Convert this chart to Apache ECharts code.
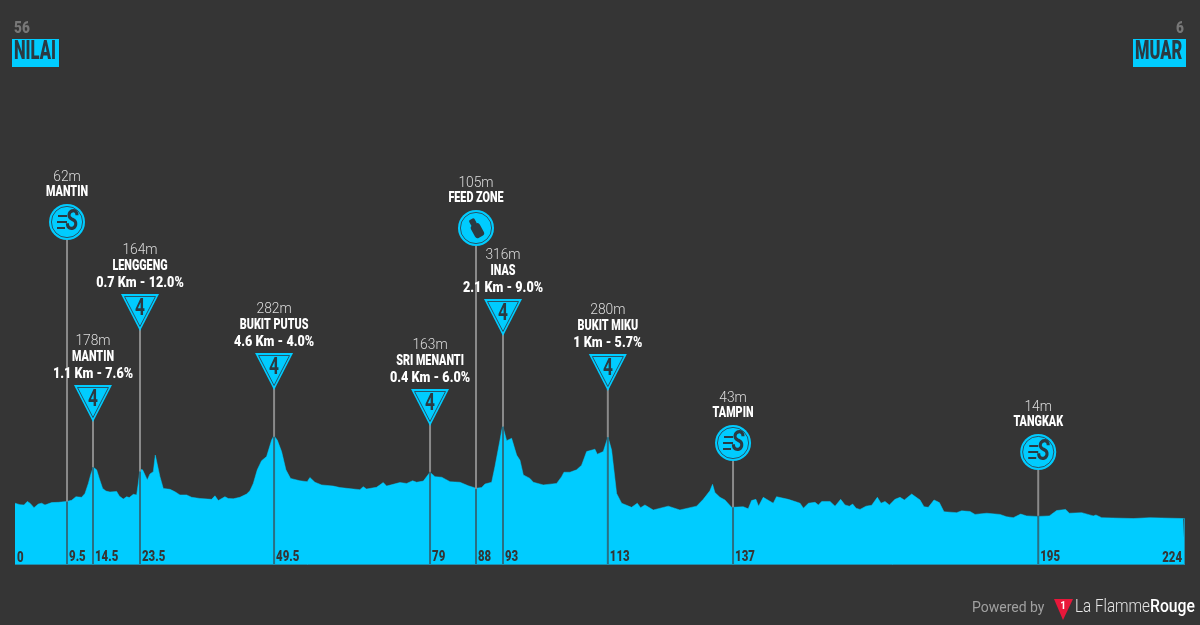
<!DOCTYPE html>
<html><head><meta charset="utf-8">
<style>html,body{margin:0;padding:0;background:#353535}#c{width:1200px;height:625px}</style>
<script src="https://cdn.jsdelivr.net/npm/echarts@6/dist/echarts.min.js"></script>
</head><body><div id="c"></div>
<script>
const profileKm = [0,0.96,1.72,2.36,2.87,3.64,4.46,5.1,5.74,7.02,8.29,9.89,10.85,11.67,12.76,13.4,14.04,14.48,14.99,15.63,16.14,16.78,17.42,18.18,19.46,19.97,20.73,21.37,21.88,22.65,23.29,23.6,23.92,24.43,25.33,25.84,26.48,26.86,27.24,27.75,28.39,29.67,30.62,31.58,32.86,33.81,35.41,37.64,38.28,38.92,40.19,40.83,41.79,43.06,44.34,44.98,45.62,46.38,47.21,48.17,49.13,49.57,50.21,51.04,51.87,52.76,54.55,55.95,56.46,57.42,58.7,60.93,62.2,64.76,66.03,66.67,67.31,69.22,70.5,71.14,73.69,74.99,76.13,76.9,78.18,79.45,80.41,81.69,83.28,85.19,86.79,88.26,89.34,89.98,91.26,91.89,92.85,93.36,94.13,95.08,96.04,96.68,97.32,98.59,99.23,101.14,103.7,104.65,105.1,106.25,107.52,108.48,109.44,111.03,111.48,112.63,113.52,114.22,115.18,116.14,118.05,119.14,119.77,120.6,122.2,125.07,127.3,130.49,131.77,133.04,133.55,134,134.96,135.92,137.19,139.42,140.38,141.02,141.85,142.36,143.25,145.17,145.8,148.04,149.63,150.3,150.94,151.9,153.17,153.81,154.45,156.04,157,158.08,158.91,159.74,160.38,161.02,161.78,162.93,164.02,165.1,165.8,166.57,167.4,168.48,169.44,170.27,171.67,173.27,174.03,174.86,175.95,176.97,177.86,180.29,181.24,182.84,183.8,186.03,188.58,189.86,191.13,192.54,193.68,195.73,198.02,199.43,201.15,201.85,204.21,206.44,206.95,208.04,214.1,217.29,223.67,224];
const profileElev = [57,52,51,63,57,42,54,57,51,59,60,63,67,79,77,90,124,153,179,170,141,107,98,95,97,81,71,79,76,87,85,124,172,170,136,156,164,220,215,147,107,104,96,85,85,77,73,70,82,66,79,73,72,77,88,99,124,170,201,215,271,286,271,232,170,141,133,130,144,128,119,115,110,105,103,113,105,111,127,115,127,124,133,128,132,162,147,145,130,128,116,108,110,122,128,181,271,320,269,277,220,203,153,141,128,119,124,147,162,162,170,186,232,240,223,232,282,237,90,57,43,57,42,51,34,47,34,47,70,99,121,93,77,68,43,45,38,66,70,47,77,57,79,70,61,57,40,57,60,51,63,63,47,70,51,47,54,40,36,47,50,77,57,63,51,70,77,68,88,68,45,43,68,59,28,25,31,29,19,23,19,11,8,20,14,12,14,32,36,23,25,14,17,8,5,8,5,5];
const markerKm = [9.96,14.93,23.93,49.6,79.46,88.26,93.43,113.5,137.47,195.9];
const markerTickLabels = ['9.5','14.5','23.5','49.5','79','88','93','113','137','195'];
const markerElev = [62,178,164,282,163,105,316,280,43,14];
const markerElevLabels = ['62m','178m','164m','282m','163m','105m','316m','280m','43m','14m'];
const markerNames = ['MANTIN','MANTIN','LENGGENG','BUKIT PUTUS','SRI MENANTI','FEED ZONE','INAS','BUKIT MIKU','TAMPIN','TANGKAK'];
const markerClimbs = ['','1.1 Km - 7.6%','0.7 Km - 12.0%','4.6 Km - 4.0%','0.4 Km - 6.0%','','2.1 Km - 9.0%','1 Km - 5.7%','',''];
const markerKinds = ['sprint','kom','kom','kom','kom','feed','kom','kom','sprint','sprint'];
const markerIconY = [222,385,294,353,389,228,299,354,443,452];
const startName='NILAI', startNum='56', finishName='MUAR', finishNum='6';
const endTickLabels=['0','224'];

const CY='#00ccff', BG='#353535', INK='#2b3a42';
const F='Roboto,"Liberation Sans",sans-serif';
const profile = profileKm.map((k,i)=>[k,profileElev[i]]);
const markers = markerKm.map((k,i)=>[k,markerElev[i],i]);

function txt(x,y,s,font,fill,align,sx){return {type:'text',x,y,scaleX:sx||0.72,style:{x:0,y:0,text:s,font,fill,align:align||'center',verticalAlign:'middle'},z2:30};}
function renderMarker(params,api){
  const i=api.value(2);
  const p=api.coord([api.value(0),api.value(1)]);
  const x=p[0], top=markerIconY[i], kind=markerKinds[i], ch=[];
  const bottom=params.coordSys.y+params.coordSys.height;
  const stemTop= kind==='kom'? top+35 : top+18;
  ch.push({type:'line',shape:{x1:x,y1:stemTop,x2:x,y2:p[1]},style:{stroke:'#8a8a8a',lineWidth:2},z2:5});
  ch.push({type:'line',shape:{x1:x,y1:p[1],x2:x,y2:bottom},style:{stroke:'#2a6f84',lineWidth:2},z2:5});
  ch.push(txt(x+2,bottom-8,markerTickLabels[i],'900 15px '+F,BG,'left',0.76));
  const nameFont='900 15px '+F, elevFont='300 15px '+F;
  if(kind==='kom'){
    ch.push({type:'polygon',shape:{points:[[x-19,top],[x+19,top],[x,top+37]]},style:{fill:CY},z2:10});
    ch.push({type:'polygon',shape:{points:[[x-15.5,top+2.5],[x+15.5,top+2.5],[x,top+32.5]]},style:{fill:CY,stroke:'#26566a',lineWidth:1},z2:11});
    ch.push(txt(x,top+15,'4','bold 24px '+F,INK,'center',0.72));
    ch.push(txt(x,top-44,markerElevLabels[i],elevFont,'#dddddd','center',0.92));
    ch.push(txt(x,top-28,markerNames[i],nameFont,'#ffffff','center',0.72));
    ch.push(txt(x,top-11,markerClimbs[i],nameFont,'#ffffff','center',0.84));
  } else {
    ch.push({type:'circle',shape:{cx:x,cy:top,r:18},style:{fill:CY},z2:10});
    ch.push({type:'circle',shape:{cx:x,cy:top,r:15.6},style:{fill:CY,stroke:'#26566a',lineWidth:1},z2:11});
    ch.push(txt(x,top-45,markerElevLabels[i],elevFont,'#dddddd','center',0.92));
    ch.push(txt(x,top-30,markerNames[i],nameFont,'#ffffff','center',0.72));
    if(kind==='sprint'){
      ch.push({type:'rect',shape:{x:x-9,y:top-7,width:9,height:2},style:{fill:INK},z2:12});
      ch.push({type:'rect',shape:{x:x-10,y:top-1,width:10,height:2},style:{fill:INK},z2:12});
      ch.push({type:'rect',shape:{x:x-10,y:top+5,width:8,height:2},style:{fill:INK},z2:12});
      ch.push(txt(x+5,top,'S','italic bold 30px '+F,INK,'center',0.72));
    } else {
      ch.push({type:'group',x:x,y:top,rotation:0.5,children:[
        {type:'rect',shape:{x:-5,y:-4,width:10,height:14,r:3},style:{fill:INK},z2:12},
        {type:'rect',shape:{x:-3,y:-10,width:6,height:7,r:1.5},style:{fill:INK},z2:12}
      ]});
    }
  }
  return {type:'group',children:ch};
}

function gText(x,y,s,font,fill,align,sx){return {type:'text',x,y,scaleX:sx,style:{x:0,y:0,text:s,font,fill,align,verticalAlign:'middle'}};}
const graphics=[
  {type:'line',shape:{x1:15,y1:564.5,x2:1185,y2:564.5},style:{stroke:'#1d8eae',lineWidth:1}},
  {type:'line',shape:{x1:1184.5,y1:519,x2:1184.5,y2:565},style:{stroke:'#1d8eae',lineWidth:1}},
  gText(14,29,startNum,'900 17px '+F,'#777777','left',0.8),
  {type:'rect',shape:{x:12,y:39,width:47,height:28},style:{fill:CY}},
  gText(14,53,startName,'900 25px '+F,INK,'left',0.66),
  gText(1184,29,finishNum,'900 17px '+F,'#777777','right',0.8),
  {type:'rect',shape:{x:1133,y:39,width:53,height:28},style:{fill:CY}},
  gText(1135,53,finishName,'900 25px '+F,INK,'left',0.66),
  gText(17,558,endTickLabels[0],'900 15px '+F,BG,'left',0.76),
  gText(1182,558,endTickLabels[1],'900 15px '+F,BG,'right',0.76),
  gText(972,608,'Powered by','14px '+F,'#a0a0a0','left',1),
  {type:'polygon',shape:{points:[[1054,599],[1073,599],[1063,620]]},style:{fill:'#e8173a'}},
  gText(1063,606,'1','bold 10px '+F,'#ffffff','center',1),
  gText(1075,608,'La Flamme','300 17.5px '+F,'#e6e6e6','left',0.87),
  gText(1150,608,'Rouge','500 17.5px '+F,'#ffffff','left',0.9)
];

const chart=echarts.init(document.getElementById('c'),null,{renderer:'canvas'});
chart.setOption({
  animation:false,
  backgroundColor:BG,
  grid:{left:15,right:15,top:65,bottom:60},
  xAxis:{type:'value',min:0,max:224,show:false},
  yAxis:{type:'value',min:-152.5,max:1542.5,show:false},
  graphic:{elements:graphics.map(g=>Object.assign({z:50},g))},
  series:[
    {type:'line',data:profile,showSymbol:false,symbol:'none',silent:true,z:2,
     lineStyle:{width:0.5,color:CY},areaStyle:{color:CY,opacity:1,origin:'start'}},
    {type:'custom',data:markers,renderItem:renderMarker,silent:true,clip:false,z:5,encode:{x:0,y:1}}
  ]
});
</script></body></html>
